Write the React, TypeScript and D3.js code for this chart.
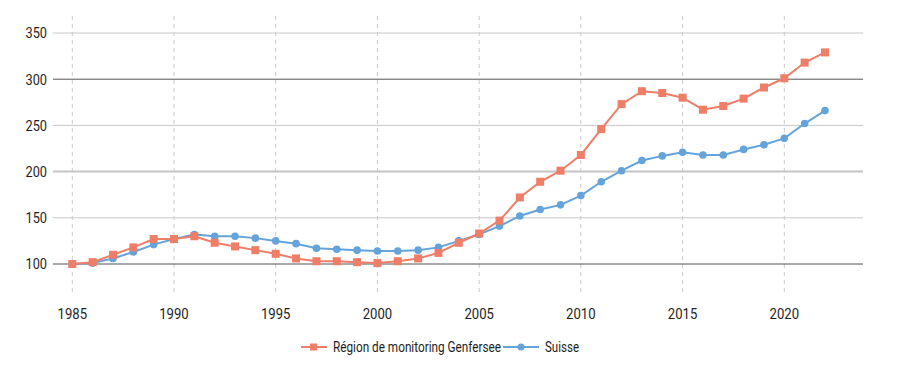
import React from "react";
import * as d3 from "d3";

const years: number[] = d3.range(1985, 2023);
const genfersee: number[] = [100, 102, 110, 118, 127, 127, 130, 123, 119, 115, 111, 106, 103, 103, 102, 101, 103, 106, 112, 123, 133, 147, 172, 189, 201, 218, 246, 273, 287, 285, 280, 267, 271, 279, 291, 301, 318, 329];
const suisse: number[] = [100, 101, 106, 113, 121, 127, 132, 130, 130, 128, 125, 122, 117, 116, 115, 114, 114, 115, 118, 125, 132, 141, 152, 159, 164, 174, 189, 201, 212, 217, 221, 218, 218, 224, 229, 236, 252, 266];
const yTicks: number[] = [100, 150, 200, 250, 300, 350];
const xTicks: number[] = [1985, 1990, 1995, 2000, 2005, 2010, 2015, 2020];
const seriesNames: string[] = ["Région de monitoring Genfersee", "Suisse"];

const RED = "#ee7e67";
const BLUE = "#65a3db";
const FONT = "Roboto, 'Noto Sans', sans-serif";
const FS = 15;

function T(props: { x: number; y: number; w: number; anchor?: string; children: React.ReactNode }) {
  return (
    <text
      x={props.x}
      y={props.y}
      textAnchor={props.anchor || "start"}
      fontSize={FS}
      fill="#1e1e1e"
      textLength={props.w}
      lengthAdjust="spacingAndGlyphs"
    >
      {props.children}
    </text>
  );
}

export default function App() {
  const W = 906, H = 372;
  const x = d3.scaleLinear().domain([1985, 2020]).range([72.3, 784.3]);
  const y = d3.scaleLinear().domain([100, 350]).range([264, 33]);
  const gridLeft = 53, gridRight = 863;
  const line = d3.line<number>().x((_, i) => x(years[i])).y((d) => y(d));

  const gridStyle = (v: number) => {
    if (v === 100 || v === 300) return { stroke: "#555", width: 1 };
    if (v === 200) return { stroke: "#c4c4c4", width: 2 };
    return { stroke: "#c8c8c8", width: 1 };
  };

  return (
    <svg width={W} height={H} style={{ position: "absolute", left: 0, top: 0, background: "#fff" }} fontFamily={FONT}>
      {xTicks.map((t) => (
        <line key={"v" + t} x1={x(t)} x2={x(t)} y1={16} y2={296} stroke="#cfc7c7" strokeWidth={1} strokeDasharray="4,4" />
      ))}
      {yTicks.map((t) => {
        const s = gridStyle(t);
        return <line key={"h" + t} x1={gridLeft} x2={gridRight} y1={y(t)} y2={y(t)} stroke={s.stroke} strokeWidth={s.width} />;
      })}
      {yTicks.map((t) => (
        <T key={"yl" + t} x={47} y={y(t) + 5.3} w={21.5} anchor="end">{t}</T>
      ))}
      {xTicks.map((t) => (
        <T key={"xl" + t} x={x(t)} y={318.5} w={29.5} anchor="middle">{t}</T>
      ))}
      <path d={line(suisse) || ""} fill="none" stroke={BLUE} strokeWidth={2} />
      {suisse.map((v, i) => (
        <circle key={"b" + i} cx={x(years[i])} cy={y(v)} r={3.8} fill={BLUE} />
      ))}
      <path d={line(genfersee) || ""} fill="none" stroke={RED} strokeWidth={2} />
      {genfersee.map((v, i) => (
        <rect key={"r" + i} x={x(years[i]) - 4} y={y(v) - 4} width={8} height={8} fill={RED} />
      ))}
      <g>
        <line x1={301} x2={327} y1={347} y2={347} stroke={RED} strokeWidth={2} />
        <rect x={310} y={343.5} width={7} height={7} fill={RED} />
        <T x={333} y={352.3} w={168}>{seriesNames[0]}</T>
        <line x1={503} x2={539} y1={347} y2={347} stroke={BLUE} strokeWidth={2} />
        <circle cx={521} cy={347} r={3.5} fill={BLUE} />
        <T x={545} y={352.3} w={34}>{seriesNames[1]}</T>
      </g>
    </svg>
  );
}
